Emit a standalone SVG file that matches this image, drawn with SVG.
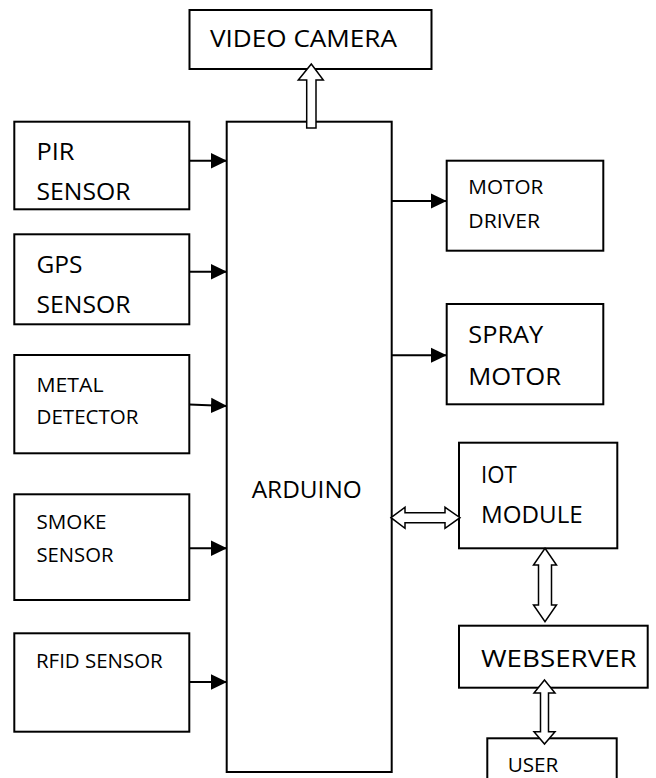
<svg xmlns="http://www.w3.org/2000/svg" width="656" height="778" viewBox="0 0 656 778">
<style>
.box{fill:#fff;stroke:#000;stroke-width:2}
.t{font-family:"Open Sans","Noto Sans","Liberation Sans",sans-serif;fill:#000}
.b{font-size:24px}
.s{font-size:20px}
.ln{stroke:#000;stroke-width:2;fill:none}
.hol{fill:#fff;stroke:#000;stroke-width:1.5;stroke-linejoin:miter}
</style>
<defs>
<marker id="ah" markerWidth="16" markerHeight="16" viewBox="0 0 16 16" refX="16" refY="8" orient="auto" markerUnits="userSpaceOnUse">
<path d="M0,0.3 L16,8 L0,15.7 Z" fill="#000"/>
</marker>
</defs>
<rect width="656" height="778" fill="#fff"/>

<g id="video-camera">
<rect class="box" x="189.5" y="10" width="242" height="59"/>
<text class="t b" x="210" y="47" textLength="187" lengthAdjust="spacingAndGlyphs">VIDEO CAMERA</text>
</g>
<g id="pir-sensor">
<rect class="box" x="14.3" y="121.7" width="175" height="87.6"/>
<text class="t b" x="36.5" y="159.5" textLength="38" lengthAdjust="spacingAndGlyphs">PIR</text>
<text class="t b" x="36.5" y="200" textLength="94" lengthAdjust="spacingAndGlyphs">SENSOR</text>
</g>
<g id="gps-sensor">
<rect class="box" x="14.3" y="234.3" width="175" height="90"/>
<text class="t b" x="36.5" y="273.3" textLength="46" lengthAdjust="spacingAndGlyphs">GPS</text>
<text class="t b" x="36.5" y="313.3" textLength="94" lengthAdjust="spacingAndGlyphs">SENSOR</text>
</g>
<g id="metal-detector">
<rect class="box" x="14.3" y="355" width="175" height="98.3"/>
<text class="t s" x="36.5" y="391.7" textLength="67" lengthAdjust="spacingAndGlyphs">METAL</text>
<text class="t s" x="36.5" y="424.3" textLength="102" lengthAdjust="spacingAndGlyphs">DETECTOR</text>
</g>
<g id="smoke-sensor">
<rect class="box" x="14.3" y="494.3" width="175" height="105.7"/>
<text class="t s" x="36.5" y="528.5" textLength="70" lengthAdjust="spacingAndGlyphs">SMOKE</text>
<text class="t s" x="36.5" y="561.5" textLength="77" lengthAdjust="spacingAndGlyphs">SENSOR</text>
</g>
<g id="rfid-sensor">
<rect class="box" x="14.3" y="633.3" width="175" height="98.4"/>
<text class="t s" x="36" y="668.3" textLength="126.7" lengthAdjust="spacingAndGlyphs">RFID SENSOR</text>
</g>
<g id="arduino">
<rect class="box" x="226.7" y="121.7" width="165" height="650.3"/>
<text class="t b" x="251.7" y="497.5" textLength="110" lengthAdjust="spacingAndGlyphs">ARDUINO</text>
</g>
<g id="motor-driver">
<rect class="box" x="446.7" y="160.7" width="156.6" height="90"/>
<text class="t s" x="468.3" y="194" textLength="75" lengthAdjust="spacingAndGlyphs">MOTOR</text>
<text class="t s" x="468.3" y="227.7" textLength="71.7" lengthAdjust="spacingAndGlyphs">DRIVER</text>
</g>
<g id="spray-motor">
<rect class="box" x="446.7" y="304" width="156.6" height="100.3"/>
<text class="t b" x="468.3" y="343.3" textLength="75" lengthAdjust="spacingAndGlyphs">SPRAY</text>
<text class="t b" x="468.3" y="385" textLength="92.7" lengthAdjust="spacingAndGlyphs">MOTOR</text>
</g>
<g id="iot-module">
<rect class="box" x="459" y="442.7" width="158.3" height="105.6"/>
<text class="t b" x="481" y="483.3" textLength="35.7" lengthAdjust="spacingAndGlyphs">IOT</text>
<text class="t b" x="481" y="523.3" textLength="101.7" lengthAdjust="spacingAndGlyphs">MODULE</text>
</g>
<g id="webserver">
<rect class="box" x="459" y="625.7" width="188.7" height="62"/>
<text class="t b" x="481" y="666.7" textLength="155.7" lengthAdjust="spacingAndGlyphs">WEBSERVER</text>
</g>
<g id="user">
<rect class="box" x="487.3" y="738.3" width="129.4" height="60"/>
<text class="t s" x="507.7" y="771.7" textLength="50.7" lengthAdjust="spacingAndGlyphs">USER</text>
</g>

<g id="connectors">
<line class="ln" x1="189.3" y1="160.7" x2="227" y2="160.7" marker-end="url(#ah)"/>
<line class="ln" x1="189.3" y1="271.7" x2="227" y2="271.7" marker-end="url(#ah)"/>
<line class="ln" x1="189.3" y1="404.5" x2="227" y2="406" marker-end="url(#ah)"/>
<line class="ln" x1="189.3" y1="548.3" x2="227" y2="548.3" marker-end="url(#ah)"/>
<line class="ln" x1="189.3" y1="682" x2="227" y2="682" marker-end="url(#ah)"/>
<line class="ln" x1="391.7" y1="201" x2="446.7" y2="201" marker-end="url(#ah)"/>
<line class="ln" x1="391.7" y1="355.3" x2="446.7" y2="355.3" marker-end="url(#ah)"/>
<polygon class="hol" points="311.3,64 323.3,80 316,80 316,128 306.7,128 306.7,80 298.3,80"/>
<polygon class="hol" points="391,517.7 405,507.3 405,512.7 445,512.7 445,507.3 460,517.7 445,528.3 445,522.7 405,522.7 405,528.3"/>
<polygon class="hol" points="545,548.3 556.5,565 551.5,565 551.5,605 556.5,605 545,621.7 533.5,605 538.5,605 538.5,565 533.5,565"/>
<polygon class="hol" points="544.5,680 555,693 548.5,693 548.5,731.7 555,731.7 544.5,744 534,731.7 540.5,731.7 540.5,693 534,693"/>
</g>
</svg>
